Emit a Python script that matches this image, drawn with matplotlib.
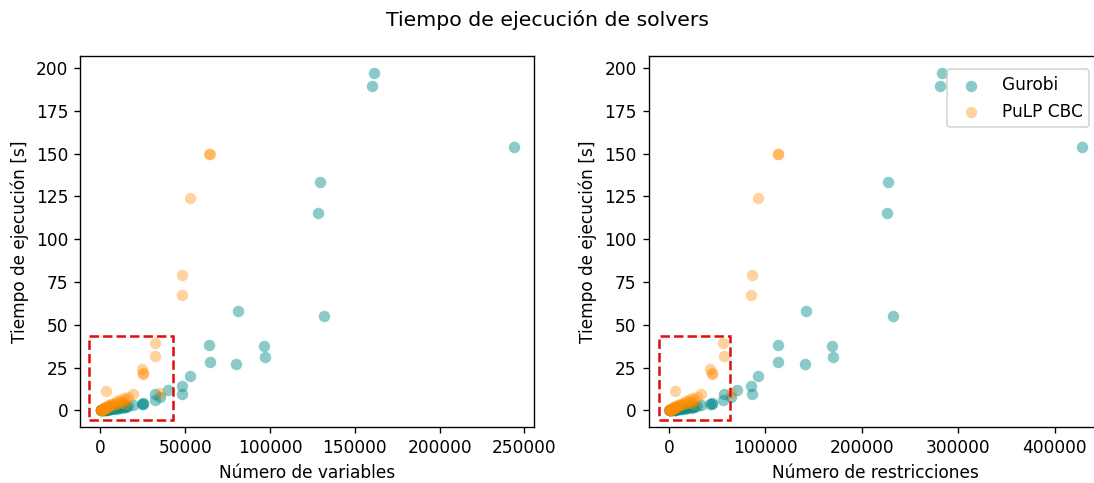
import matplotlib
matplotlib.use("Agg")
import matplotlib.pyplot as plt
from matplotlib.patches import Rectangle

# instancias pequeñas (resueltas por ambos solvers)
small_vars = [100, 250, 400, 600, 800, 1000, 1300, 1600, 2000, 2400, 2800, 3300, 3800, 4400,
              5000, 5700, 6400, 7200, 8000, 8900, 9800, 10800, 11800, 12800, 13800, 15000, 16500]
small_cons = [180, 440, 700, 1050, 1400, 1750, 2280, 2800, 3500, 4200, 4900, 5780, 6650, 7700,
              8750, 9980, 11200, 12600, 14000, 15580, 17150, 18900, 20650, 22400, 24150, 26250, 28900]
small_gurobi = [0.01, 0.02, 0.05, 0.03, 0.1, 0.08, 0.2, 0.12, 0.3, 0.2, 0.45, 0.3, 0.6, 0.45,
                0.8, 0.6, 1.0, 0.8, 1.3, 1.0, 1.6, 1.3, 1.9, 1.6, 2.3, 2.0, 2.6]
small_pulp = [0.05, 0.1, 0.3, 0.2, 0.5, 0.4, 0.9, 0.7, 1.4, 1.0, 1.9, 1.5, 2.6, 2.0,
              3.2, 2.5, 3.9, 3.0, 4.6, 3.6, 5.4, 4.4, 6.2, 5.2, 7.0, 6.3, 8.0]

# instancias medianas (ambos solvers)
mid_vars = [3000, 14200, 19200, 24350, 25200, 25200, 31970, 31970, 35350, 48060, 48060, 52700, 63930, 64570]
mid_cons = [5900, 24800, 33600, 42200, 44600, 44800, 55600, 57300, 64000, 85240, 86300, 92700, 113500, 113500]
mid_gurobi = [0.4, 1.9, 2.9, 3.6, 4.0, 4.2, 6.2, 9.4, 7.8, 14.0, 9.4, 19.9, 38.0, 28.0]
mid_pulp = [11.1, 3.9, 9.75, 24.4, 21.0, 21.8, 39.4, 31.6, 10.3, 67.5, 79.2, 124.0, 150.0, 149.5]

# instancias grandes (solo Gurobi)
big_vars = [40000, 80020, 80870, 96320, 97170, 128500, 129350, 132100, 160250, 161100, 243670]
big_cons = [70000, 140770, 141830, 169070, 170480, 225660, 226720, 232030, 281550, 282960, 428680]
big_gurobi = [12.0, 27.2, 58.0, 37.4, 31.4, 115.2, 133.6, 55.0, 189.3, 197.3, 154.0]

gurobi_vars = small_vars + mid_vars + big_vars
gurobi_cons = small_cons + mid_cons + big_cons
gurobi_time = small_gurobi + mid_gurobi + big_gurobi
pulp_vars = small_vars + mid_vars
pulp_cons = small_cons + mid_cons
pulp_time = small_pulp + mid_pulp

W, H, DPI = 1094, 483, 122
fig = plt.figure(figsize=(W / DPI, H / DPI), dpi=DPI)
ax1 = fig.add_axes([80 / W, 1 - 427.3 / H, 454.3 / W, 371.6 / H])
ax2 = fig.add_axes([648.6 / W, 1 - 427.3 / H, 454.3 / W, 371.6 / H])

panels = [
    (ax1, gurobi_vars, pulp_vars, "Número de variables", (-7000, -5.3, 50000, 48.8)),
    (ax2, gurobi_cons, pulp_cons, "Número de restricciones", (-10400, -5.3, 73400, 48.8)),
]
for ax, gx, px, xlabel, zoom in panels:
    ax.scatter(gx, gurobi_time, s=46, color="darkcyan", alpha=0.45, linewidths=0, label="Gurobi")
    ax.scatter(px, pulp_time, s=46, color="darkorange", alpha=0.38, linewidths=0, label="PuLP CBC")
    ax.set_xlabel(xlabel)
    ax.set_ylabel("Tiempo de ejecución [s]")
    # zona ampliada, sin alterar los límites de los ejes
    x0, y0, w, h = zoom
    ax.add_artist(Rectangle((x0, y0), w, h, fill=False, edgecolor="#e01010",
                            linestyle="--", linewidth=1.5, transform=ax.transData))

ax1.set_xticks([0, 50000, 100000, 150000, 200000, 250000])
ax2.set_xticks([0, 100000, 200000, 300000, 400000])
ax1.set_yticks([0, 25, 50, 75, 100, 125, 150, 175, 200])
ax2.set_yticks([0, 25, 50, 75, 100, 125, 150, 175, 200])
ax2.legend(loc="upper right", borderaxespad=0.8)

fig.suptitle("Tiempo de ejecución de solvers", fontsize=12)
fig.savefig("out.png", dpi=DPI)
